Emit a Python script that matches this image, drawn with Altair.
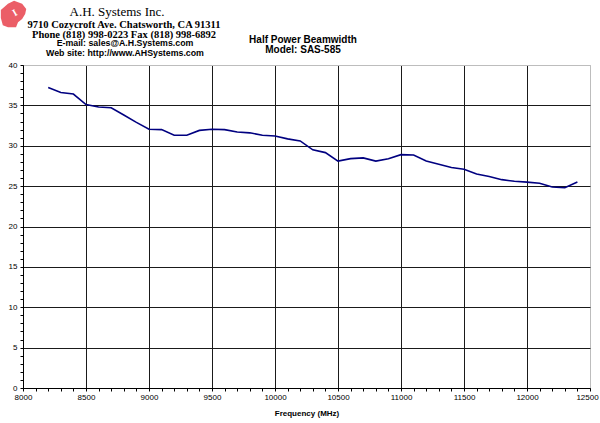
import altair as alt
import pandas as pd

# ---- data ----
freq_mhz = [8200, 8300, 8400, 8500, 8600, 8700, 8800, 8900, 9000, 9100,
            9200, 9300, 9400, 9500, 9600, 9700, 9800, 9900, 10000, 10100,
            10200, 10300, 10400, 10500, 10600, 10700, 10800, 10900, 11000, 11100,
            11200, 11300, 11400, 11500, 11600, 11700, 11800, 11900, 12000, 12100,
            12200, 12300, 12400]
beamwidth = [37.2, 36.6, 36.4, 35.1, 34.8, 34.7, 33.8, 32.9, 32.05, 32.0,
             31.3, 31.3, 31.9, 32.05, 32.0, 31.7, 31.6, 31.3, 31.2, 30.85,
             30.6, 29.5, 29.15, 28.1, 28.4, 28.5, 28.1, 28.4, 28.9, 28.85,
             28.1, 27.7, 27.3, 27.1, 26.5, 26.2, 25.8, 25.6, 25.5, 25.35,
             24.9, 24.8, 25.5]

x_ticks = list(range(8000, 12501, 100))
y_ticks = list(range(0, 41))

company_name = ["A.H. Systems Inc."]
address_lines = ["9710 Cozycroft Ave. Chatsworth, CA 91311",
                 "Phone (818) 998-0223 Fax (818) 998-6892"]
web_lines = ["E-mail: sales@A.H.Systems.com",
             "Web site: http://www.AHSystems.com"]
title_lines = ["Half Power Beamwidth", "Model: SAS-585"]
x_title = "Frequency (MHz)"

W, H = 567, 323
df = pd.DataFrame({"f": freq_mhz, "bw": beamwidth})

x_axis = alt.Axis(
    values=x_ticks, format="d", title=x_title,
    labelExpr="datum.value % 500 === 0 ? datum.label : ''",
    labelFont="Liberation Sans", labelFontSize=8, labelColor="#000",
    labelFlush=False, labelOverlap=False, labelPadding=2,
    labelOffset={"condition": {"test": "datum.value === 12500", "value": -3}, "value": 0},
    titleFont="Liberation Sans", titleFontSize=8, titleFontWeight="bold",
    titleColor="#000", titlePadding=8,
    tickSize=3, tickColor="#000", domainColor="#000",
    grid=True,
    gridOpacity={"condition": {"test": "datum.value % 500 === 0", "value": 1}, "value": 0},
    gridColor={"condition": {"test": "datum.value === 12500", "value": "#bdbdbd"}, "value": "#1a1a1a"},
)
y_axis = alt.Axis(
    values=y_ticks, title=None,
    labelExpr="datum.value % 5 === 0 ? datum.label : ''",
    labelFont="Liberation Sans", labelFontSize=8, labelColor="#000",
    labelFlush=False, labelOverlap=False, labelPadding=3,
    tickSize=3, tickColor="#000", domainColor="#000",
    grid=True,
    gridOpacity={"condition": {"test": "datum.value % 5 === 0", "value": 1}, "value": 0},
    gridColor={"condition": {"test": "datum.value === 40", "value": "#bdbdbd"}, "value": "#1a1a1a"},
)

line = alt.Chart(df).mark_line(color="#000080", strokeWidth=1.6).encode(
    x=alt.X("f:Q", scale=alt.Scale(domain=[8000, 12500], nice=False, zero=False), axis=x_axis),
    y=alt.Y("bw:Q", scale=alt.Scale(domain=[0, 40], nice=False), axis=y_axis),
)

def text_layers(lines, x, y0, dy, font, size, weight, color="#000"):
    out = []
    for i, s in enumerate(lines):
        d = pd.DataFrame({"t": [s]})
        out.append(
            alt.Chart(d).mark_text(font=font, fontSize=size, fontWeight=weight, color=color,
                                   align="center", baseline="middle").encode(
                x=alt.value(x), y=alt.value(y0 + i * dy), text="t:N")
        )
    return out

layers = [line]
layers += text_layers(company_name, 94, -53, 0, "Liberation Serif", 13, "normal")
layers += text_layers(address_lines, 101, -40, 9.5, "Liberation Serif", 10.5, "bold")
layers += text_layers(web_lines, 102, -22, 10, "Liberation Sans", 8.8, "bold")
layers += text_layers(title_lines, 280, -25, 9.5, "Liberation Sans", 10, "bold")

# decorative company logo (red emblem, top-left)
logo_path = ("M -0.92 -0.31 L -0.38 -0.77 L 0.08 -1 L 0.69 -0.77 L 1 -0.38 L 0.92 0 "
             "L 0.69 0.38 L 0.38 0.62 L 0.23 1 L -0.38 1 L -0.77 0.85 L -0.92 0.31 Z")
logo_df = pd.DataFrame({"k": ["logo"], "g": ["I"]})
logo = alt.Chart(logo_df).mark_point(
    shape=logo_path, filled=True, color="#e8424c", opacity=0.85, size=700, strokeWidth=0
).encode(x=alt.value(-10), y=alt.value(-51))
logo_glyph = alt.Chart(logo_df).mark_text(
    font="Liberation Serif", fontSize=10, fontWeight="bold", color="#fff", angle=330,
    align="center", baseline="middle"
).encode(x=alt.value(-8), y=alt.value(-52), text="g:N")
layers += [logo, logo_glyph]

chart = alt.layer(*layers).properties(
    width=W, height=H,
    autosize=alt.AutoSizeParams(type="none"),
    padding={"left": 23, "top": 65, "right": 10, "bottom": 35},
    background="#ffffff",
).configure_view(stroke="#bdbdbd", strokeWidth=1)

chart.save("out.html", embed_options={"renderer": "svg", "actions": False})
